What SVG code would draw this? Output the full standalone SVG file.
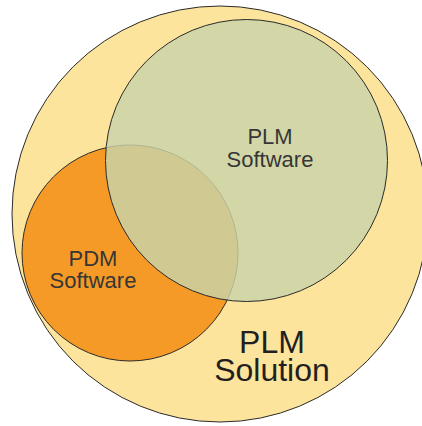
<svg xmlns="http://www.w3.org/2000/svg" width="422" height="426" viewBox="0 0 422 426">
<style>
.c{stroke:#2b2b2b;stroke-width:1}
.lbl{font-family:"Liberation Sans",Arial,sans-serif;fill:#363636;text-anchor:middle;font-size:22px}
.big{font-family:"Liberation Sans",Arial,sans-serif;fill:#231f20;text-anchor:middle;font-size:32px}
</style>
<rect width="422" height="426" fill="#ffffff"/>
<g id="plm-solution">
<circle class="c" cx="220" cy="214" r="208" fill="#fde49c"/>
<text class="big" x="272" y="353">PLM<tspan x="272" dy="28">Solution</tspan></text>
</g>
<g id="pdm-software">
<circle class="c" cx="130" cy="253" r="108" fill="#f59a27"/>
</g>
<g id="plm-software">
<circle class="c" cx="246.5" cy="160.5" r="141" fill="#c9d3a9" fill-opacity="0.82"/>
<text class="lbl" x="270" y="144">PLM<tspan x="270" dy="23">Software</tspan></text>
</g>
<g id="pdm-labels">
<text class="lbl" x="93" y="266">PDM<tspan x="93" dy="22">Software</tspan></text>
</g>
<g id="connectors"/>
</svg>
